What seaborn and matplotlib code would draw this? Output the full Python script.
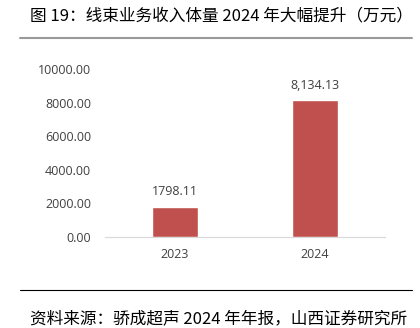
import matplotlib
matplotlib.use("Agg")
import matplotlib.pyplot as plt
import seaborn as sns
import pandas as pd
from matplotlib.lines import Line2D

categories = ["2023", "2024"]
values = [1798.11, 8134.13]
value_labels = ["1798.11", "8,134.13"]
yticks = [0, 2000, 4000, 6000, 8000, 10000]

sns.set_theme(style="white")
plt.rcParams['font.family'] = ['Noto Sans CJK SC', 'DejaVu Sans']

fig = plt.figure(figsize=(4.2, 3.28), dpi=100)
ax = fig.add_axes([0.25, 0.2774, 0.667, 0.5122])

df = pd.DataFrame({"year": categories, "value": values})
sns.barplot(data=df, x="year", y="value", color="#C0504D", saturation=1, width=0.33, ax=ax)
ax.set_xlim(-0.5, 1.5)
ax.set_ylim(0, 10000)
ax.set_yticks(yticks)
ax.set_yticklabels([f"{v:.2f}" for v in yticks], fontsize=9, color="#404040", family="Open Sans")
for lbl in ax.get_xticklabels():
    lbl.set_fontsize(9); lbl.set_color("#404040"); lbl.set_family("Open Sans")
ax.set_xlabel(""); ax.set_ylabel("")
ax.tick_params(axis="both", length=0, pad=10)
ax.tick_params(axis="x", pad=8)
for s in ["top", "right", "left"]:
    ax.spines[s].set_visible(False)
ax.spines["bottom"].set_color("#D9D9D9")
ax.spines["bottom"].set_linewidth(0.8)

for i, p in enumerate(ax.patches):
    ax.text(p.get_x() + p.get_width() / 2, p.get_height() + 500, value_labels[i],
            ha="center", va="bottom", fontsize=9, color="#404040", family="Open Sans")

fig.text(30 / 420, 1 - 16 / 328, "图 19：线束业务收入体量 2024 年大幅提升（万元）", ha="left", va="center",
         fontsize=12, color="black")
fig.add_artist(Line2D([20 / 420, 412 / 420], [1 - 38 / 328] * 2, color="#999999", lw=1.5))
fig.add_artist(Line2D([20 / 420, 412 / 420], [1 - 290 / 328] * 2, color="black", lw=0.8))
fig.text(30 / 420, 1 - 319 / 328, "资料来源：骄成超声 2024 年年报，山西证券研究所", ha="left", va="center",
         fontsize=12, color="black")

fig.savefig("out.png", dpi=100)
